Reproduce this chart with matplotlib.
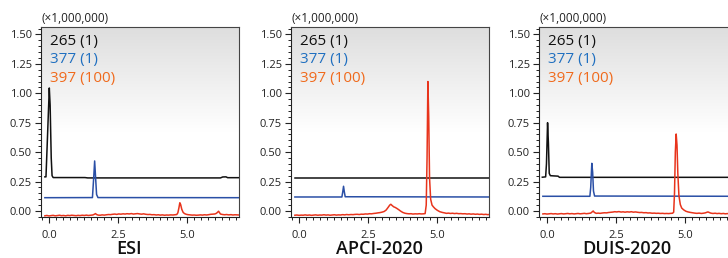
import numpy as np
import matplotlib
matplotlib.use("Agg")
import matplotlib.pyplot as plt
from matplotlib.colors import LinearSegmentedColormap
from matplotlib.ticker import MultipleLocator, FormatStrFormatter

plt.rcParams['font.family'] = ['Open Sans', 'DejaVu Sans']

panel_titles = ["ESI", "APCI-2020", "DUIS-2020"]
legend_labels = ["265 (1)", "377 (1)", "397 (100)"]
y_ticks = [0.00, 0.25, 0.50, 0.75, 1.00, 1.25, 1.50]
x_ticks = [0.0, 2.5, 5.0]
scale_label = "(\u00d71,000,000)"

# ---- ESI ----
esi_265 = [(-0.15, 0.29), (-0.11, 0.29), (-0.06, 0.60), (0.01, 1.045), (0.04, 0.90),
           (0.08, 0.45), (0.11, 0.30), (0.15, 0.284), (1.30, 0.284), (1.40, 0.281),
           (6.20, 0.281), (6.28, 0.289), (6.40, 0.290), (6.46, 0.283), (6.87, 0.283)]
esi_377 = [(-0.15, 0.113), (1.57, 0.114), (1.62, 0.30), (1.65, 0.425), (1.68, 0.30),
           (1.72, 0.14), (1.77, 0.114), (6.87, 0.113)]
esi_397 = [(-0.15, -0.041), (-0.08, -0.038), (0.00, -0.042), (0.08, -0.039), (0.15, -0.037),
           (0.22, -0.041), (0.30, -0.039), (0.38, -0.036), (0.45, -0.040), (0.52, -0.038),
           (0.60, -0.041), (0.68, -0.037), (0.75, -0.039), (0.82, -0.036), (0.90, -0.038),
           (0.98, -0.040), (1.05, -0.037), (1.12, -0.039), (1.20, -0.036), (1.28, -0.038),
           (1.35, -0.035), (1.42, -0.038), (1.50, -0.036), (1.58, -0.034), (1.64, -0.028),
           (1.68, -0.022), (1.72, -0.030), (1.78, -0.035), (1.85, -0.036), (1.92, -0.033),
           (2.00, -0.035), (2.08, -0.032), (2.15, -0.030), (2.22, -0.031), (2.30, -0.028),
           (2.38, -0.026), (2.45, -0.029), (2.52, -0.025), (2.60, -0.027), (2.68, -0.024),
           (2.75, -0.026), (2.82, -0.023), (2.90, -0.025), (2.98, -0.022), (3.05, -0.026),
           (3.12, -0.024), (3.20, -0.022), (3.28, -0.025), (3.35, -0.027), (3.42, -0.024),
           (3.50, -0.028), (3.58, -0.030), (3.65, -0.029), (3.72, -0.032), (3.80, -0.031),
           (3.88, -0.034), (3.95, -0.032), (4.02, -0.035), (4.10, -0.033), (4.18, -0.036),
           (4.25, -0.034), (4.32, -0.035), (4.40, -0.033), (4.48, -0.034), (4.55, -0.032),
           (4.62, -0.030), (4.66, -0.015), (4.70, 0.030), (4.73, 0.070), (4.76, 0.055),
           (4.80, 0.015), (4.85, -0.012), (4.90, -0.022), (4.96, -0.028), (5.02, -0.031),
           (5.10, -0.033), (5.18, -0.035), (5.25, -0.034), (5.32, -0.036), (5.40, -0.035),
           (5.48, -0.033), (5.55, -0.035), (5.62, -0.032), (5.70, -0.034), (5.78, -0.031),
           (5.85, -0.028), (5.92, -0.027), (6.00, -0.025), (6.05, -0.020), (6.10, -0.010),
           (6.13, -0.002), (6.16, -0.012), (6.20, -0.026), (6.28, -0.030), (6.35, -0.032),
           (6.42, -0.030), (6.50, -0.033), (6.58, -0.031), (6.65, -0.034), (6.72, -0.032),
           (6.80, -0.033), (6.87, -0.034)]

# ---- APCI-2020 ----
apci_265 = [(-0.15, 0.278), (6.87, 0.278)]
apci_377 = [(-0.15, 0.119), (1.55, 0.119), (1.58, 0.16), (1.61, 0.21), (1.64, 0.16),
            (1.67, 0.121), (6.87, 0.119)]
apci_397 = [(-0.15, -0.036), (-0.08, -0.034), (0.00, -0.037), (0.08, -0.035), (0.15, -0.036),
            (0.22, -0.033), (0.30, -0.036), (0.38, -0.034), (0.45, -0.037), (0.52, -0.035),
            (0.60, -0.033), (0.68, -0.036), (0.75, -0.034), (0.82, -0.035), (0.90, -0.032),
            (0.98, -0.035), (1.05, -0.033), (1.12, -0.036), (1.20, -0.034), (1.28, -0.032),
            (1.35, -0.035), (1.42, -0.033), (1.50, -0.034), (1.58, -0.031), (1.65, -0.033),
            (1.72, -0.030), (1.80, -0.032), (1.88, -0.030), (1.95, -0.031), (2.02, -0.029),
            (2.10, -0.028), (2.18, -0.030), (2.25, -0.027), (2.32, -0.028), (2.40, -0.025),
            (2.48, -0.026), (2.55, -0.023), (2.62, -0.024), (2.70, -0.021), (2.78, -0.019),
            (2.85, -0.016), (2.92, -0.014), (3.00, -0.010), (3.08, -0.004), (3.15, 0.008),
            (3.22, 0.030), (3.28, 0.050), (3.32, 0.057), (3.36, 0.048), (3.42, 0.036),
            (3.48, 0.030), (3.53, 0.023), (3.60, 0.012), (3.68, -0.002), (3.75, -0.012),
            (3.83, -0.019), (3.90, -0.022), (3.98, -0.024), (4.05, -0.023), (4.12, -0.026),
            (4.20, -0.024), (4.28, -0.025), (4.35, -0.023), (4.42, -0.025), (4.50, -0.024),
            (4.56, -0.022), (4.60, 0.05), (4.63, 0.45), (4.66, 1.10), (4.69, 0.80),
            (4.72, 0.28), (4.76, 0.10), (4.81, 0.050), (4.86, 0.035), (4.92, 0.020),
            (5.00, 0.006), (5.09, -0.006), (5.18, -0.012), (5.26, -0.016), (5.33, -0.020),
            (5.40, -0.018), (5.48, -0.021), (5.55, -0.019), (5.62, -0.022), (5.70, -0.020),
            (5.78, -0.023), (5.85, -0.022), (5.92, -0.024), (6.00, -0.023), (6.08, -0.026),
            (6.15, -0.024), (6.22, -0.027), (6.30, -0.025), (6.38, -0.028), (6.45, -0.026),
            (6.52, -0.029), (6.60, -0.027), (6.68, -0.030), (6.75, -0.028), (6.82, -0.031),
            (6.87, -0.030)]

# ---- DUIS-2020 ----
duis_265 = [(-0.17, 0.287), (-0.05, 0.29), (-0.02, 0.40), (0.02, 0.75), (0.05, 0.58),
            (0.08, 0.32), (0.12, 0.300), (0.25, 0.298), (0.40, 0.296), (0.45, 0.286),
            (6.87, 0.286)]
duis_377 = [(-0.15, 0.125), (1.55, 0.125), (1.58, 0.20), (1.62, 0.405), (1.65, 0.33),
            (1.68, 0.17), (1.72, 0.127), (6.87, 0.125)]
duis_397 = [(-0.15, -0.025), (-0.08, -0.023), (0.00, -0.026), (0.08, -0.024), (0.15, -0.022),
            (0.22, -0.025), (0.30, -0.023), (0.38, -0.026), (0.45, -0.024), (0.52, -0.022),
            (0.60, -0.025), (0.68, -0.023), (0.75, -0.021), (0.82, -0.024), (0.90, -0.022),
            (0.98, -0.025), (1.05, -0.023), (1.12, -0.021), (1.20, -0.024), (1.28, -0.022),
            (1.35, -0.020), (1.42, -0.023), (1.50, -0.021), (1.58, -0.018), (1.63, -0.008),
            (1.67, 0.000), (1.71, -0.012), (1.78, -0.020), (1.85, -0.018), (1.92, -0.020),
            (2.00, -0.017), (2.08, -0.015), (2.15, -0.016), (2.22, -0.013), (2.30, -0.011),
            (2.38, -0.009), (2.45, -0.006), (2.52, -0.008), (2.60, -0.005), (2.68, -0.009),
            (2.75, -0.007), (2.82, -0.010), (2.90, -0.007), (2.98, -0.009), (3.05, -0.006),
            (3.12, -0.010), (3.20, -0.008), (3.28, -0.011), (3.35, -0.013), (3.42, -0.012),
            (3.50, -0.015), (3.58, -0.014), (3.65, -0.017), (3.72, -0.016), (3.80, -0.019),
            (3.88, -0.018), (3.95, -0.020), (4.02, -0.019), (4.10, -0.021), (4.18, -0.020),
            (4.25, -0.022), (4.32, -0.021), (4.40, -0.022), (4.48, -0.020), (4.54, -0.019),
            (4.58, -0.010), (4.61, 0.15), (4.64, 0.50), (4.67, 0.654), (4.70, 0.56),
            (4.73, 0.32), (4.77, 0.13), (4.82, 0.055), (4.87, 0.025), (4.94, 0.010),
            (5.02, -0.002), (5.10, -0.008), (5.18, -0.012), (5.26, -0.015), (5.34, -0.018),
            (5.42, -0.020), (5.50, -0.018), (5.58, -0.021), (5.65, -0.019), (5.72, -0.016),
            (5.78, -0.011), (5.82, -0.008), (5.86, -0.012), (5.92, -0.018), (6.00, -0.021),
            (6.08, -0.019), (6.15, -0.022), (6.22, -0.020), (6.30, -0.023), (6.38, -0.021),
            (6.45, -0.024), (6.52, -0.022), (6.60, -0.024), (6.68, -0.023), (6.75, -0.025),
            (6.82, -0.023), (6.87, -0.024)]

panels = [
    (esi_265, esi_377, esi_397),
    (apci_265, apci_377, apci_397),
    (duis_265, duis_377, duis_397),
]

line_colors = ['#111111', '#2a4fa6', '#e8341c']
text_colors = ['#111111', '#1f6fc0', '#f06a1c']

W, H = 728, 258
fig = plt.figure(figsize=(W / 100, H / 100), dpi=100)
fig.patch.set_facecolor('white')

ax_left_px = [41, 291, 539]
ax_w_px = 198
ax_top_px, ax_bot_px = 27, 217

bg_cmap = LinearSegmentedColormap.from_list(
    'bg', [(0.0, '#ffffff'), (0.45, '#ffffff'), (1.0, '#dedede')])

for i, traces in enumerate(panels):
    ax = fig.add_axes([ax_left_px[i] / W, 1 - ax_bot_px / H,
                       ax_w_px / W, (ax_bot_px - ax_top_px) / H])
    ax.set_xlim(-0.29, 6.87)
    ax.set_ylim(-0.051, 1.563)
    grad = np.linspace(0, 1, 256).reshape(-1, 1)
    ax.imshow(grad, aspect='auto', cmap=bg_cmap, origin='lower',
              extent=[0, 1, 0, 1], transform=ax.transAxes, zorder=0)
    for tr, c in zip(traces, line_colors):
        xs, ys = zip(*tr)
        ax.plot(xs, ys, color=c, lw=1.1, zorder=3, solid_joinstyle='round')

    for s in ax.spines.values():
        s.set_color('#444444')
        s.set_linewidth(0.8)
    ax.spines['left'].set_color('#222222')
    ax.spines['bottom'].set_color('#222222')

    ax.set_yticks(y_ticks)
    ax.yaxis.set_major_formatter(FormatStrFormatter('%.2f'))
    ax.yaxis.set_minor_locator(MultipleLocator(0.05))
    ax.set_xticks(x_ticks)
    ax.xaxis.set_major_formatter(FormatStrFormatter('%.1f'))
    ax.xaxis.set_minor_locator(MultipleLocator(0.25))
    ax.tick_params(axis='both', which='major', direction='out', length=4.5,
                   width=0.8, color='#222222', labelsize=8, labelcolor='#222222', pad=2)
    ax.tick_params(axis='both', which='minor', direction='out', length=2.5,
                   width=0.7, color='#222222')
    ax.tick_params(axis='x', which='major', pad=4.5)

    ax.text(0.0, 1.012, scale_label, transform=ax.transAxes, ha='left', va='bottom',
            fontsize=8.5, color='#222222')
    for j, (lab, c) in enumerate(zip(legend_labels, text_colors)):
        ax.text(0.045, 0.965 - j * 0.098, lab, transform=ax.transAxes, ha='left',
                va='top', fontsize=11, fontweight='medium', color=c, zorder=4)

    fig.text((ax_left_px[i] + 0.445 * ax_w_px) / W, 0.5 / H, panel_titles[i],
             ha='center', va='bottom', fontsize=13, fontweight='semibold', color='#111111')

fig.savefig('out.png', dpi=100)
